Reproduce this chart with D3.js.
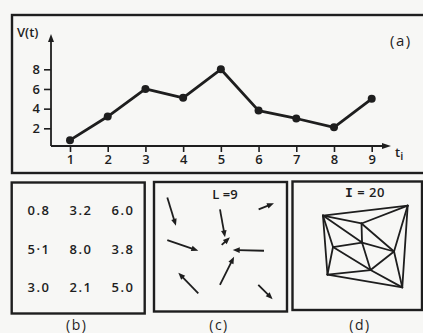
<!DOCTYPE html>
<html><head><meta charset="utf-8">
<script src="https://cdn.jsdelivr.net/npm/d3@7"></script>
<style>
body{margin:0;background:#f7f7f5;}
svg{display:block;}
text{font-family:"Open Sans","DejaVu Sans",sans-serif;font-weight:600;fill:#1e1e1e;}
</style>
</head><body>
<svg id="chart" width="423" height="333"></svg>
<script>
// ---- data ----
const times = [1, 2, 3, 4, 5, 6, 7, 8, 9];
const values = [0.8, 3.2, 6.0, 5.1, 8.0, 3.8, 3.0, 2.1, 5.0];
const yTickValues = [2, 4, 6, 8];
const xTickLabels = ["1", "2", "3", "4", "5", "6", "7", "8", "9"];
const gridLabels = ["0.8", "3.2", "6.0", "5·1", "8.0", "3.8", "3.0", "2.1", "5.0"];
const panelLabels = ["(a)", "(b)", "(c)", "(d)"];
const titleC = "L =9";
const titleD = ["I", " = 20"];
// arrows of panel (c): [x1, y1, x2, y2] in panel units (0..100)
const arrowsC = [
  [10, 12, 16.5, 34], [10, 45, 33.3, 53.3], [49.6, 21.2, 53.4, 42.9],
  [50.9, 48.8, 57.1, 42.9], [82.7, 53.3, 59.2, 52.7], [49.6, 79.8, 60.2, 57.9],
  [33.3, 86.3, 18.3, 70.3], [78.7, 21.2, 90.2, 16.5], [78.4, 79.8, 89.2, 90.9]
];
// nodes of panel (d) in panel units (0..100)
const nodesD = [
  [23.6, 26.2], [89.3, 18.4], [53.5, 32.4], [31.4, 50.8], [53.9, 47.3],
  [78.7, 54.3], [60.5, 68.8], [27.1, 72.3], [85.1, 82.3]
];
const edgesD = [
  [0, 1], [0, 2], [1, 2], [2, 4], [0, 4], [2, 5], [1, 5], [4, 5], [3, 4], [0, 3],
  [0, 7], [3, 7], [3, 6], [4, 6], [5, 6], [6, 7], [6, 8], [5, 8], [1, 8], [7, 8]
];

const ink = "#1e1e1e";
const svg = d3.select("#chart");

function arrowHead(g, x1, y1, x2, y2, len, hw) {
  const dx = x2 - x1, dy = y2 - y1, d = Math.hypot(dx, dy);
  const ux = dx / d, uy = dy / d, nx = -uy, ny = ux;
  const bx = x2 - ux * len, by = y2 - uy * len;
  g.append("path")
    .attr("d", `M${x2},${y2}L${bx + nx * hw},${by + ny * hw}L${bx - nx * hw},${by - ny * hw}Z`)
    .attr("fill", ink);
}

// ---- frames ----
const frames = [
  {x: 12, y: 15, w: 420, h: 158},
  {x: 11.7, y: 182.5, w: 133, h: 131},
  {x: 154, y: 182, w: 133, h: 129.5},
  {x: 292.5, y: 181.5, w: 129.5, h: 128.5}
];
svg.selectAll("rect.frame").data(frames).join("rect")
  .attr("class", "frame")
  .attr("x", d => d.x).attr("y", d => d.y)
  .attr("width", d => d.w).attr("height", d => d.h)
  .attr("fill", "none").attr("stroke", ink).attr("stroke-width", 2.4);

// ---- panel (a) ----
const x = d3.scaleLinear().domain([1, 9]).range([70, 371.7]);
const y = d3.scaleLinear().domain([0, 8]).range([148, 69.3]);
const axisX0 = 51, axisY0 = 146;
const ga = svg.append("g");

const yAxis = d3.axisLeft(y).tickValues(yTickValues).tickSize(7).tickPadding(4);
const gy = ga.append("g").attr("transform", `translate(${axisX0},0)`).call(yAxis);
const xAxis = d3.axisBottom(x).tickValues(times).tickSize(6).tickPadding(3)
  .tickFormat((d, i) => xTickLabels[i]);
const gx = ga.append("g").attr("transform", `translate(0,${axisY0})`).call(xAxis);
[gx, gy].forEach(g => {
  g.select(".domain").remove();
  g.selectAll(".tick line").attr("stroke", ink).attr("stroke-width", 1.6);
  g.selectAll(".tick text").attr("fill", ink).style("font-size", "13px")
    .style("font-family", '"Open Sans","DejaVu Sans",sans-serif').style("font-weight", 600);
});

// axis lines with arrows
ga.append("line").attr("x1", axisX0).attr("y1", axisY0).attr("x2", axisX0).attr("y2", 40)
  .attr("stroke", ink).attr("stroke-width", 1.8);
arrowHead(ga, axisX0, axisY0, axisX0, 34, 8, 3);
ga.append("line").attr("x1", axisX0).attr("y1", axisY0).attr("x2", 384).attr("y2", axisY0)
  .attr("stroke", ink).attr("stroke-width", 1.8);
arrowHead(ga, axisX0, axisY0, 391, axisY0, 9, 3);

// line and dots
const series = times.map((t, i) => ({t, v: values[i]}));
ga.append("path").datum(series)
  .attr("d", d3.line().x(d => x(d.t)).y(d => y(d.v)))
  .attr("fill", "none").attr("stroke", ink).attr("stroke-width", 2.8).attr("stroke-linejoin", "round");
ga.selectAll("circle.pt").data(series).join("circle")
  .attr("class", "pt").attr("cx", d => x(d.t)).attr("cy", d => y(d.v)).attr("r", 4).attr("fill", ink);

// axis titles
ga.append("text").attr("x", 17).attr("y", 37).style("font-size", "13px").text("V(t)");
const tl = ga.append("text").attr("x", 395).attr("y", 157).style("font-size", "13px");
tl.append("tspan").text("t");
tl.append("tspan").attr("dy", 3).style("font-size", "11px").text("i");
ga.append("text").attr("x", 390).attr("y", 46).style("font-size", "15px")
  .style("font-weight", 500).attr("letter-spacing", 1.5).text(panelLabels[0]);

// ---- panel (b) ----
const gb = svg.append("g");
const bx = d3.scalePoint().domain([0, 1, 2]).range([39, 123]);
const by = d3.scalePoint().domain([0, 1, 2]).range([210, 287]);
gb.selectAll("text.cell").data(gridLabels).join("text")
  .attr("class", "cell")
  .attr("x", (d, i) => bx(i % 3)).attr("y", (d, i) => by(Math.floor(i / 3)))
  .attr("text-anchor", "middle").attr("dominant-baseline", "central")
  .attr("letter-spacing", 1.5)
  .style("font-size", "13px").text(d => d);

// ---- panel (c) ----
const gc = svg.append("g");
const cx = d3.scaleLinear().domain([0, 100]).range([154, 287]);
const cy = d3.scaleLinear().domain([0, 100]).range([182, 311]);
gc.append("text").attr("x", 225).attr("y", 194).attr("text-anchor", "middle")
  .attr("dominant-baseline", "central").style("font-size", "13px").text(titleC);
arrowsC.forEach(a => {
  const [x1, y1, x2, y2] = [cx(a[0]), cy(a[1]), cx(a[2]), cy(a[3])];
  const d = Math.hypot(x2 - x1, y2 - y1);
  const k = (d - 5) / d;
  gc.append("line").attr("x1", x1).attr("y1", y1)
    .attr("x2", x1 + (x2 - x1) * k).attr("y2", y1 + (y2 - y1) * k)
    .attr("stroke", ink).attr("stroke-width", 1.8);
  arrowHead(gc, x1, y1, x2, y2, 7, 2.8);
});

// ---- panel (d) ----
const gd = svg.append("g");
const dx = d3.scaleLinear().domain([0, 100]).range([292.5, 421.5]);
const dy = d3.scaleLinear().domain([0, 100]).range([182, 310]);
const td = gd.append("text").attr("x", 365).attr("y", 192).attr("text-anchor", "middle")
  .attr("dominant-baseline", "central").style("font-size", "13px").attr("letter-spacing", 0.5);
td.append("tspan").style("font-family", '"DejaVu Sans Mono",monospace').style("font-weight", 700).text(titleD[0]);
td.append("tspan").text(titleD[1]);
gd.selectAll("line.edge").data(edgesD).join("line")
  .attr("class", "edge")
  .attr("x1", e => dx(nodesD[e[0]][0])).attr("y1", e => dy(nodesD[e[0]][1]))
  .attr("x2", e => dx(nodesD[e[1]][0])).attr("y2", e => dy(nodesD[e[1]][1]))
  .attr("stroke", ink).attr("stroke-width", 1.8).attr("stroke-linecap", "round");

// ---- bottom panel labels ----
const labelX = [76.7, 219, 360];
svg.selectAll("text.plabel").data(panelLabels.slice(1)).join("text")
  .attr("class", "plabel")
  .attr("x", (d, i) => labelX[i]).attr("y", 324)
  .attr("text-anchor", "middle").attr("dominant-baseline", "central")
  .style("font-size", "14px").style("font-weight", 500).attr("letter-spacing", 1.5)
  .text(d => d);
</script>
</body></html>
